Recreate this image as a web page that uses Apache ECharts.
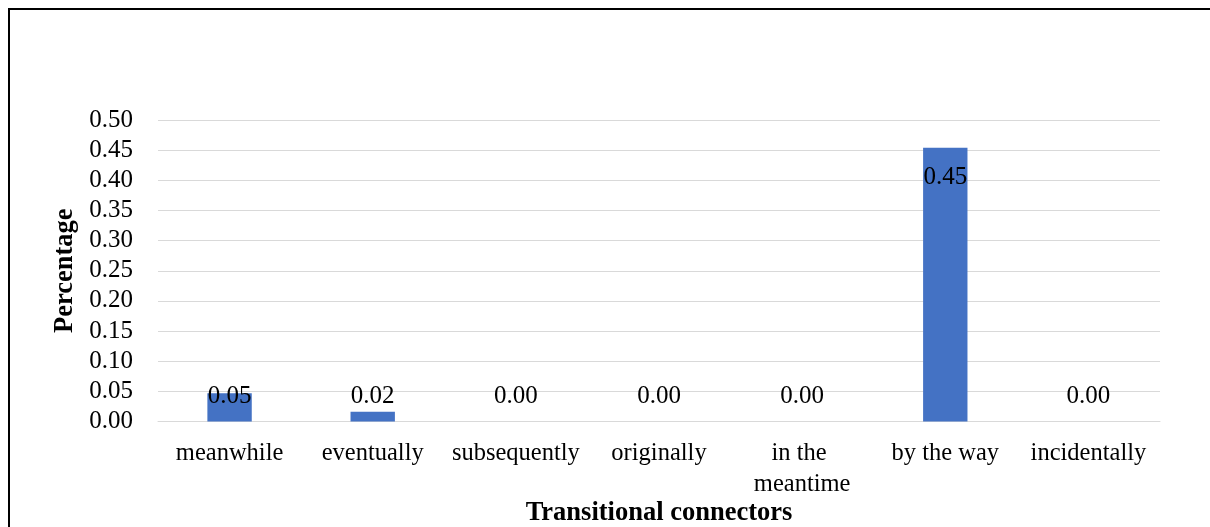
<!DOCTYPE html>
<html>
<head>
<meta charset="utf-8">
<script src="https://cdn.jsdelivr.net/npm/echarts@6/dist/echarts.min.js"></script>
<style>
html,body{margin:0;padding:0;background:#fff;overflow:hidden;}
#c{width:1210px;height:527px;}
</style>
</head>
<body>
<div id="c"></div>
<script>
const categories = ['meanwhile','eventually','subsequently','originally','in the meantime','by the way','incidentally'];
const values = [0.047, 0.016, 0, 0, 0, 0.454, 0];
const yTicks = {min: 0, max: 0.5, interval: 0.05};

const font = '"Liberation Serif", "Times New Roman", serif';
const chart = echarts.init(document.getElementById('c'));
const maxVal = Math.max(...values);
chart.setOption({
  animation: false,
  backgroundColor: '#fff',
  graphic: [{
    type: 'rect', silent: true, z: 100,
    shape: {x: 9, y: 9, width: 1400, height: 700},
    style: {fill: 'none', stroke: '#000', lineWidth: 2}
  }],
  grid: {left: 158, right: 50, top: 120, bottom: 105.5, containLabel: false, outerBoundsMode: 'none'},
  xAxis: {
    type: 'category',
    data: categories,
    axisTick: {show: false},
    axisLine: {lineStyle: {color: '#d9d9d9', width: 1}},
    axisLabel: {
      interval: 0, margin: 17, color: '#000',
      fontFamily: font, fontSize: 24.5, lineHeight: 31,
      width: 140, overflow: 'break'
    },
    name: 'Transitional connectors',
    nameLocation: 'middle',
    nameGap: 78,
    nameMoveOverlap: false,
    nameTextStyle: {fontFamily: font, fontSize: 26.5, fontWeight: 'bold', color: '#000'}
  },
  yAxis: {
    type: 'value',
    min: yTicks.min, max: yTicks.max, interval: yTicks.interval,
    axisLine: {show: false},
    axisTick: {show: false},
    splitLine: {lineStyle: {color: '#d9d9d9', width: 1}},
    axisLabel: {
      color: '#000', fontFamily: font, fontSize: 25, margin: 25,
      formatter: v => v.toFixed(2)
    },
    name: 'Percentage',
    nameLocation: 'middle',
    nameGap: 79,
    nameMoveOverlap: false,
    nameTextStyle: {fontFamily: font, fontSize: 26.5, fontWeight: 'bold', color: '#000'}
  },
  series: [{
    type: 'bar',
    data: values.map(v => v === maxVal ? {value: v, label: {position: 'insideTop', distance: 17}} : v),
    barWidth: '31%',
    itemStyle: {color: '#4472C4'},
    label: {
      show: true,
      position: 'insideBottom',
      distance: 13,
      color: '#000',
      fontFamily: font,
      fontSize: 25,
      formatter: p => p.value.toFixed(2)
    }
  }]
});
</script>
</body>
</html>
